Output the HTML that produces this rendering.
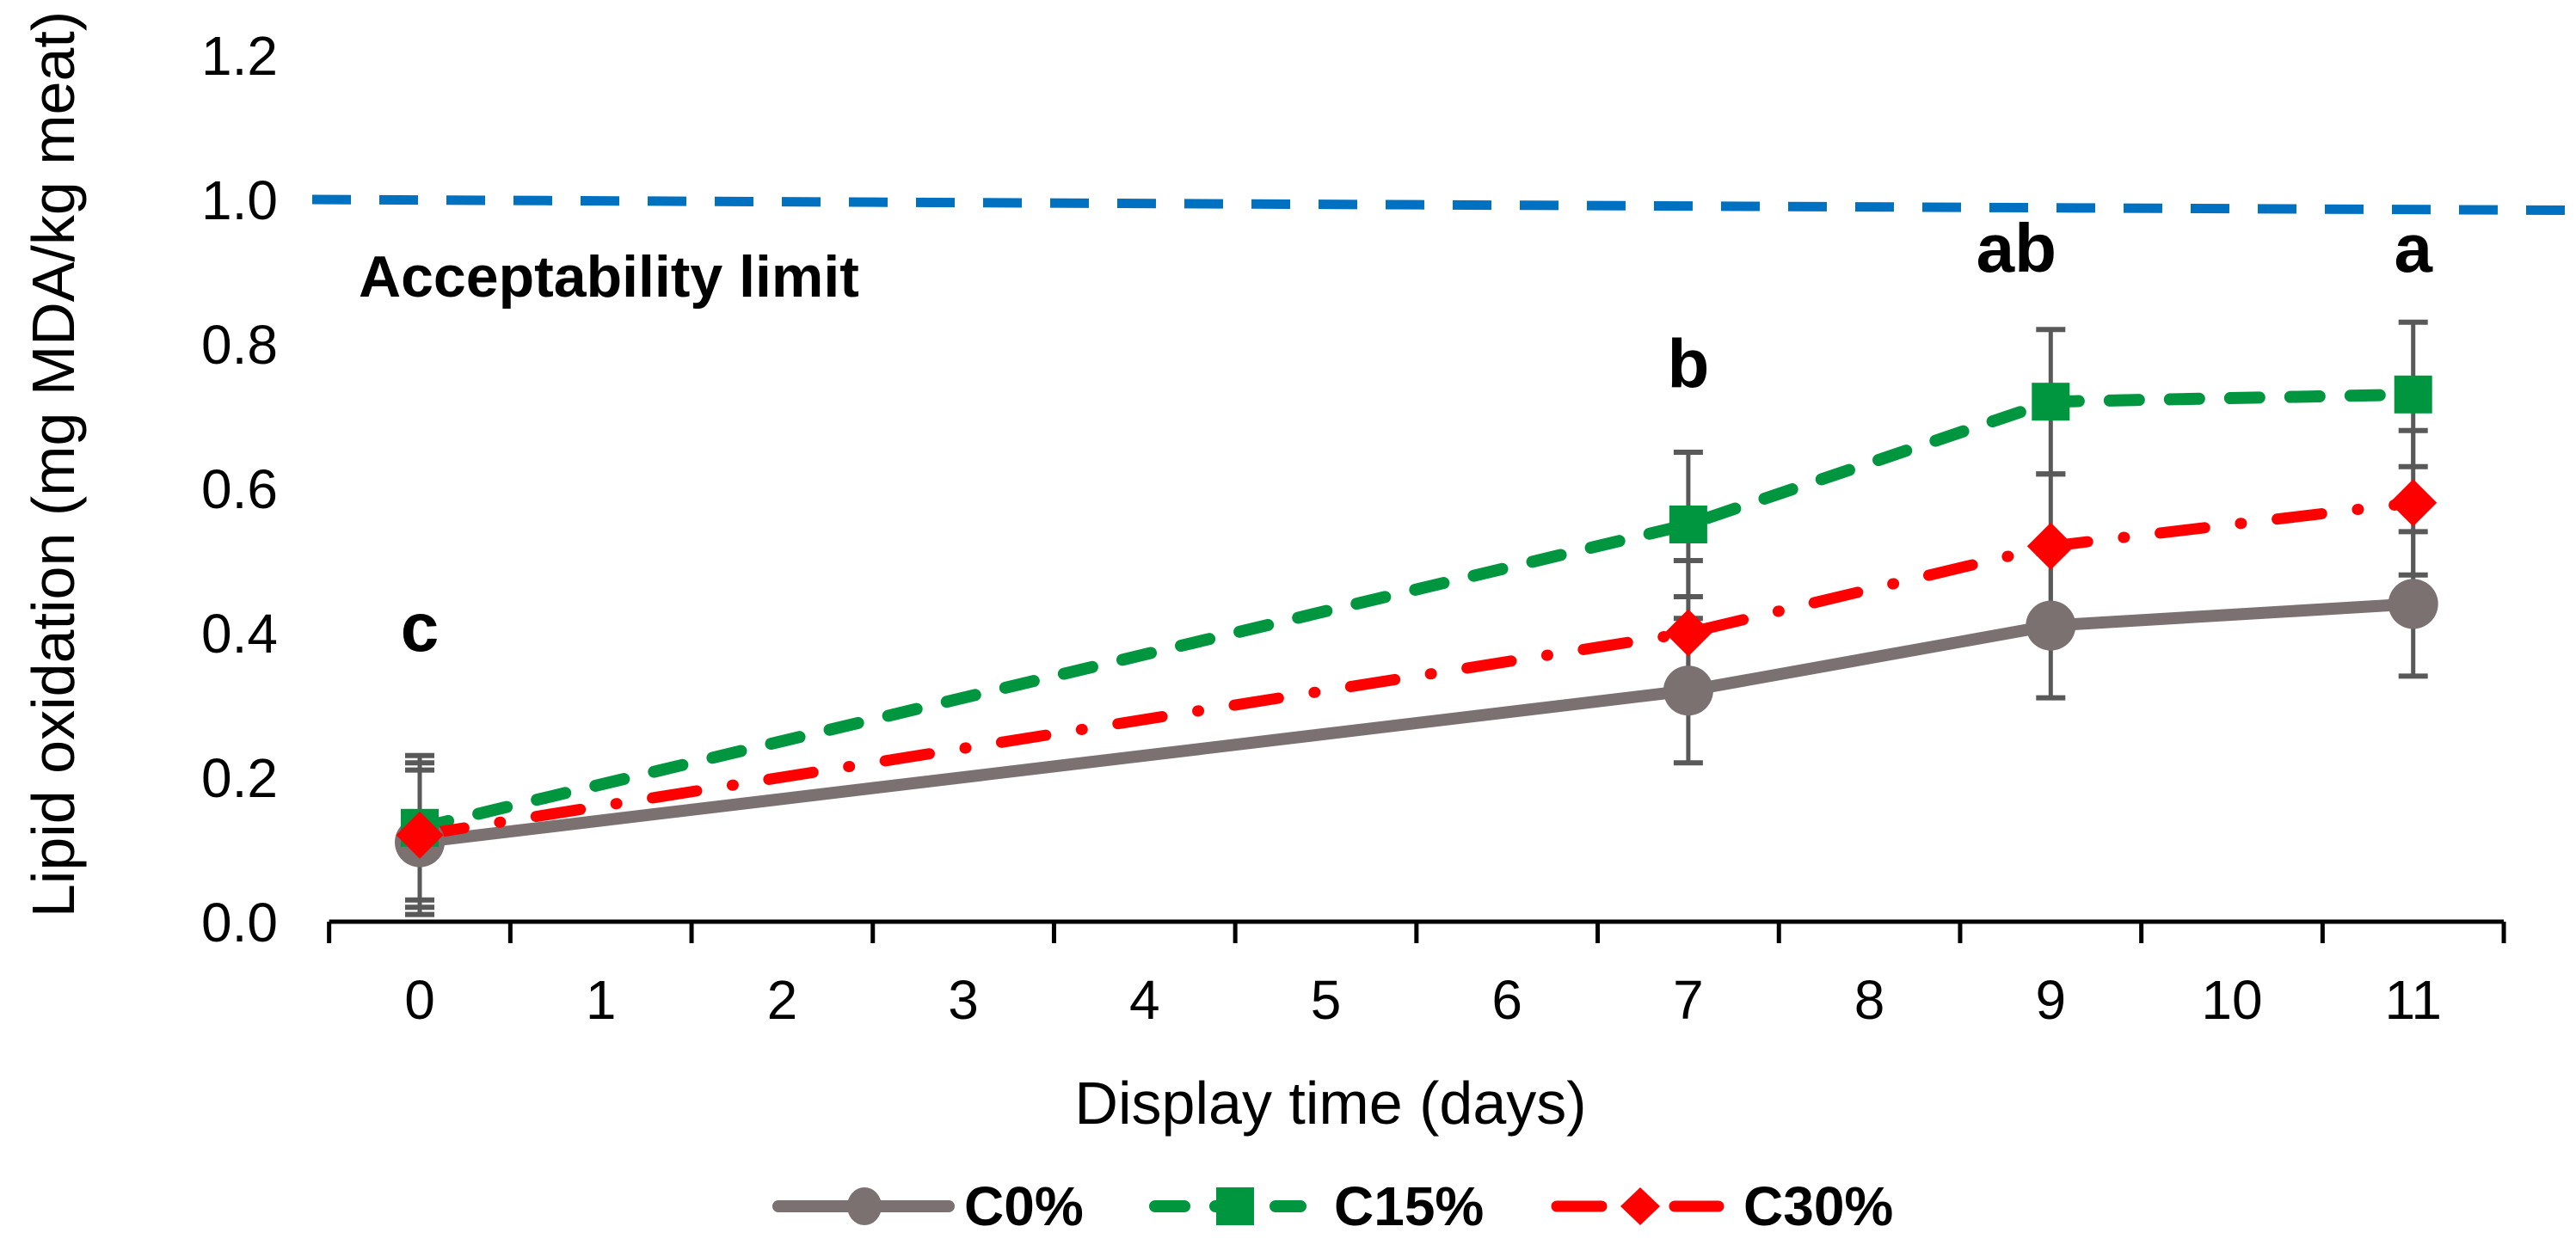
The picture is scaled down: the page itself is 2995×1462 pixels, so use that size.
<!DOCTYPE html>
<html><head><meta charset="utf-8"><style>
html,body{margin:0;padding:0;background:#fff;}
svg{display:block;font-family:"Liberation Sans",Arial,sans-serif;}
</style></head><body>
<svg id="chart" width="2995" height="1462" viewBox="0 0 2995 1462">
<g id="axes"></g>
<g id="limit"></g>
<g id="errs"></g>
<g id="series"></g>
<g id="legend"></g>
<text x="417" y="345" font-size="68" font-weight="bold">Acceptability limit</text>
<text transform="translate(86,540) rotate(-90)" text-anchor="middle" font-size="70">Lipid oxidation (mg MDA/kg meat)</text>
<text x="1547" y="1307" text-anchor="middle" font-size="70">Display time (days)</text>
</svg>
<script>
const xTicks = [0,1,2,3,4,5,6,7,8,9,10,11];
const yTicks = ["0.0","0.2","0.4","0.6","0.8","1.0","1.2"];
const days = [0,7,9,11];
const c0 = [0.11,0.32,0.41,0.44];
const c15 = [0.13,0.55,0.72,0.73];
const c30 = [0.12,0.40,0.52,0.58];
const errC0 = [0.1,0.1,0.1,0.1];
const errC15 = [0.1,0.1,0.1,0.1];
const errC30 = [0.1,0.1,0.1,0.1];
const letters = ["c","b","ab","a"];
const letterDays = [0,7,9,11];
const letterVals = [0.375,0.74,0.9,0.9];
const limitVals = [1.0,0.985];

const NS="http://www.w3.org/2000/svg";
const X0=488, DX=210.7, Y0=1072, DY=840;
function xs(d){return X0+d*DX;}
function ys(v){return Y0-v*DY;}
function mk(tag,attrs,parent){const e=document.createElementNS(NS,tag);for(const k in attrs)e.setAttribute(k,attrs[k]);parent.appendChild(e);return e;}

const axes=document.getElementById('axes');
const ax=mk('line',{x1:xs(-0.5),x2:xs(11.5),y1:Y0,y2:Y0,stroke:'#000','stroke-width':5},axes);


for(let i=0;i<=xTicks.length;i++){
  const t=mk('line',{x1:xs(i-0.5),x2:xs(i-0.5),y1:Y0,y2:Y0+25,stroke:'#000','stroke-width':5},axes);
  
  
}
xTicks.forEach(d=>{
  const t=mk('text',{x:xs(d),y:1185,'text-anchor':'middle','font-size':64},axes);
  t.textContent=d;
  
  
});
yTicks.forEach(l=>{
  const t=mk('text',{x:323,y:ys(parseFloat(l))+23,'text-anchor':'end','font-size':64},axes);
  t.textContent=l;
  
  
});

const lim=document.getElementById('limit');
const ll=mk('line',{x1:363,x2:2995,y1:ys(limitVals[0]),y2:ys(limitVals[1]),stroke:'#0070C0','stroke-width':11,'stroke-dasharray':'45 33'},lim);



const errs=document.getElementById('errs');
[[c0,errC0],[c15,errC15],[c30,errC30]].forEach(([vals,er])=>{
  vals.forEach((v,i)=>{
    const x=xs(days[i]);
    const b=mk('line',{x1:x,x2:x,y1:ys(v+er[i]),y2:ys(v-er[i]),stroke:'#595959','stroke-width':5},errs);
    
    
    [v+er[i],v-er[i]].forEach(e=>{
      const c=mk('line',{x1:x-17,x2:x+17,y1:ys(e),y2:ys(e),stroke:'#595959','stroke-width':6},errs);
      
      
    });
  });
});

const ser=document.getElementById('series');
function pts(vals){return vals.map((v,i)=>xs(days[i])+','+ys(v)).join(' ');}
function circle(p,cx,cy,r){return mk('circle',{cx:cx,cy:cy,r:r,fill:'#7B7171'},p);}
function square(p,cx,cy,s){return mk('rect',{x:cx-s/2,y:cy-s/2,width:s,height:s,fill:'#00963F'},p);}
function diamond(p,cx,cy,w,h){return mk('polygon',{points:`${cx},${cy-h/2} ${cx+w/2},${cy} ${cx},${cy+h/2} ${cx-w/2},${cy}`,fill:'#FF0000'},p);}

const l0=mk('polyline',{points:pts(c0),fill:'none',stroke:'#7B7171','stroke-width':14},ser);


const l15=mk('polyline',{points:pts(c15),fill:'none',stroke:'#00963F','stroke-width':14,'stroke-dasharray':'34 36','stroke-linecap':'round'},ser);


const l30=mk('polyline',{points:pts(c30),fill:'none',stroke:'#FF0000','stroke-width':13,'stroke-dasharray':'52 42 1 42','stroke-linecap':'round'},ser);


c0.forEach((v,i)=>{const m=circle(ser,xs(days[i]),ys(v),29);
  
  });
c15.forEach((v,i)=>{const m=square(ser,xs(days[i]),ys(v),44);
  
  });
c30.forEach((v,i)=>{const m=diamond(ser,xs(days[i]),ys(v),55,55);
  
  });

letters.forEach((s,i)=>{
  const t=mk('text',{x:xs(letterDays[i])+(s==='ab'?-40:0),y:ys(letterVals[i]),'text-anchor':'middle','font-size':80,'font-weight':'bold'},ser);
  t.textContent=s;
  
  
});

const leg=document.getElementById('legend');
const LY=1403;
const g0=mk('line',{x1:905,x2:1103,y1:LY,y2:LY,stroke:'#7B7171','stroke-width':14,'stroke-linecap':'round'},leg);


const gm0=mk('ellipse',{cx:1005,cy:LY,rx:20,ry:22,fill:'#7B7171'},leg);


const g15=mk('line',{x1:1343,x2:1512,y1:LY,y2:LY,stroke:'#00963F','stroke-width':14,'stroke-dasharray':'34 36','stroke-linecap':'round'},leg);


const gm15=square(leg,1436,LY,44);


const g30=mk('line',{x1:1810,x2:1998,y1:LY,y2:LY,stroke:'#FF0000','stroke-width':13,'stroke-dasharray':'52 42 1 42','stroke-linecap':'round'},leg);


const gm30=diamond(leg,1907,LY,46,44);


[["C0%",1121],["C15%",1551],["C30%",2027]].forEach(([s,x])=>{
  const t=mk('text',{x:x,y:1425,'font-size':64,'font-weight':'bold'},leg);
  t.textContent=s;
  
  
});
</script>
</body></html>
